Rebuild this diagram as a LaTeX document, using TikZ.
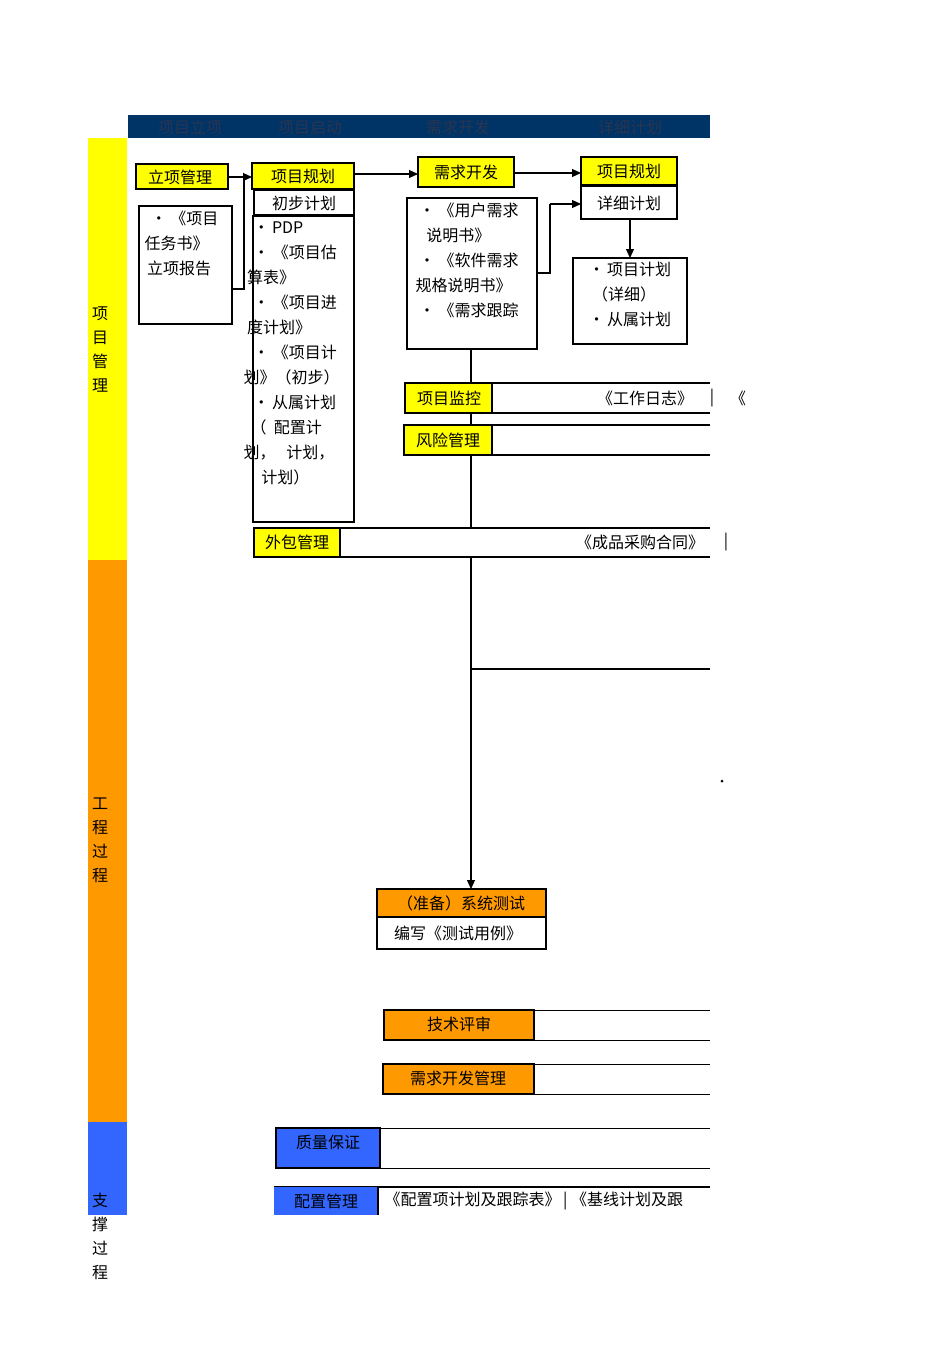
\documentclass[tikz,border=0pt]{standalone}
\usepackage{fontspec}
\setmainfont{Noto Sans CJK SC}
\usetikzlibrary{arrows.meta}
\definecolor{hdr}{HTML}{003366}
\definecolor{hdrtxt}{HTML}{2A3550}
\definecolor{ylw}{HTML}{FFFF00}
\definecolor{org}{HTML}{FF9900}
\definecolor{blu}{HTML}{3366FF}
\begin{document}
\begin{tikzpicture}[x=1pt,y=-1pt,font=\fontsize{16}{25}\selectfont,
  box/.style={draw,line width=1.3pt,inner sep=0pt},
  ybox/.style={box,fill=ylw},
  obox/.style={box,fill=org},
  bbox/.style={box,fill=blu},
  arr/.style={-{Triangle[length=9pt,width=8pt]},line width=1.2pt},
  ln/.style={line width=1.2pt}]
\useasboundingbox (0,0) rectangle (950,1345);
% header
\fill[hdr] (128,115) rectangle (710,138);
\foreach \x/\t in {190/项目立项,310/项目启动,458/需求开发,630/详细计划}
  \node[text=hdrtxt] at (\x,127) {\t};
% side bars
\fill[ylw] (88,138) rectangle (127,560);
\fill[org] (88,560) rectangle (127,1122);
\fill[blu] (88,1122) rectangle (127,1215);
\node[align=center,font=\fontsize{16}{24}\selectfont] at (100,349) {项\\目\\管\\理};
\node[align=center,font=\fontsize{16}{24}\selectfont] at (100,840) {工\\程\\过\\程};
\node[align=center,font=\fontsize{16}{24}\selectfont] at (100,1236) {支\\撑\\过\\程};
% col 1
\draw[ybox] (136,164) rectangle (228,189); \node (lx) at (180,177) {立项管理};
\draw[box] (139,206) rectangle (232,324);
\node[align=left,anchor=north west] (rw) at (141,207) {\ \,•\ 《项目\\任务书》\\\,立项报告};
% col 2
\draw[ybox] (252,163) rectangle (354,189); \node (gh1) at (303,176) {项目规划};
\draw[box,fill=white] (254,190) rectangle (354,215); \node at (304,203) {初步计划};
\draw[box] (253,216) rectangle (354,522);
\node[align=left,anchor=north west] at (240,218)
 {\ \ \,•\,PDP\\\ \ \,•\ 《项目估\\\ 算表》\\\ \ \,•\ 《项目进\\\ 度计划》\\\ \ \,•\ 《项目计\\划》（初步）\\\ \ \,•\,从属计划\\\ \ （\ \ 配置计\\划，\ \ \ 计划，\\\ \ \ \ \ 计划）};
\draw[ln] (232,289) -- (244,289) -- (244,177);
\draw[arr] (228,177) -- (252,177);
% col 3
\draw[ybox] (418,157) rectangle (514,187); \node at (466,172) {需求开发};
\draw[arr] (354,174) -- (418,174);
\draw[box] (407,198) rectangle (537,349);
\node[align=left,anchor=north west] at (412,199)
 {\ •\ 《用户需求\\\ \ \ 说明书》\\\ •\ 《软件需求\\规格说明书》\\\ •\ 《需求跟踪};
% col 4
\draw[arr] (514,173) -- (581,173);
\draw[ybox] (581,157) rectangle (677,185); \node at (629,171) {项目规划};
\draw[box,fill=white] (581,186) rectangle (677,219); \node at (629,203) {详细计划};
\draw[ln] (537,273) -- (550,273) -- (550,204);
\draw[arr] (550,204) -- (581,204);
\draw[arr] (630,219) -- (630,258);
\draw[box] (573,258) rectangle (687,344);
\node[align=left,anchor=north west] at (585,259)
 {•\,项目计划\\\ （详细）\\•\,从属计划};
% vertical trunk
\draw[ln] (471,349) -- (471,383);
\draw[ln] (471,413) -- (471,425);
\draw[ln] (471,455) -- (471,528);
\draw[arr] (471,557) -- (471,889);
\draw[ln] (471,669) -- (710,669);
\fill (722,781) circle (1.5pt);
% bars
\draw[ln] (405,383) -- (710,383) (405,413) -- (710,413);
\draw[ybox] (405,383) rectangle (492,413); \node at (449,398) {项目监控};
\node at (645,398) {《工作日志》}; \node at (712,398) {|}; \node at (738,398) {《};
\draw[ln] (404,425) -- (710,425) (404,455) -- (710,455);
\draw[ybox] (404,425) rectangle (492,455); \node at (448,440) {风险管理};
\draw[ln] (254,528) -- (710,528) (254,557) -- (710,557);
\draw[ybox] (254,528) rectangle (340,557); \node at (297,542) {外包管理};
\node at (640,542) {《成品采购合同》}; \node at (726,542) {|};
% test
\draw[obox] (377,889) rectangle (546,917); \node (st) at (461,903) {（准备）系统测试};
\draw[box,fill=white] (377,917) rectangle (546,949); \node at (458,933) {编写《测试用例》};
\draw[line width=0.8pt] (384,1010) -- (710,1010) (384,1040) -- (710,1040);
\draw[obox] (384,1010) rectangle (534,1040); \node at (459,1024) {技术评审};
\draw[line width=0.8pt] (383,1064) -- (710,1064) (383,1094) -- (710,1094);
\draw[obox] (383,1064) rectangle (534,1094); \node at (458,1078) {需求开发管理};
\draw[line width=0.8pt] (276,1128) -- (710,1128) (276,1168) -- (710,1168);
\draw[bbox] (276,1128) rectangle (380,1168); \node at (328,1142) {质量保证};
\draw[line width=1.3pt] (274,1187) -- (710,1187);
\fill[blu] (274,1187) rectangle (378,1215);
\draw[line width=1.3pt] (378,1187) -- (378,1215);
\node at (326,1201) {配置管理};
\node[anchor=west] at (381,1201) {《配置项计划及跟踪表》\,|\ 《基线计划及跟};
\end{tikzpicture}
\end{document}
